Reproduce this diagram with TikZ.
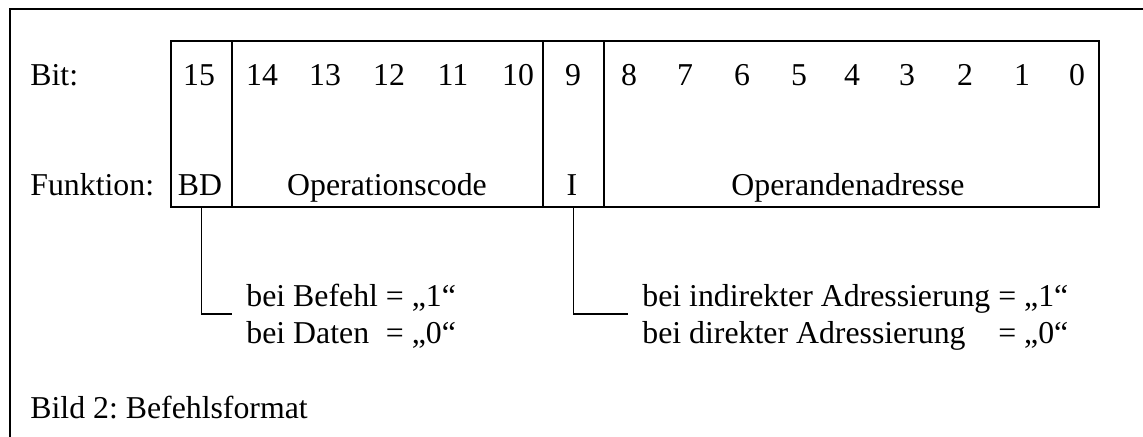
\documentclass[tikz,border=0pt]{standalone}
\usepackage{fontspec}
\setmainfont{Liberation Serif}
\frenchspacing
\begin{document}
\begin{tikzpicture}[x=0.5pt,y=-0.5pt,
  every node/.style={font=\fontsize{15.9}{18}\selectfont, inner sep=0pt},
  field/.style={draw, line width=0.8pt, minimum height=83pt},
  txt/.style={anchor=base},
  ltxt/.style={anchor=base west},
  conn/.style={line width=0.8pt}]
\useasboundingbox (0,0) rectangle (1143,437);
% outer frame (clipped at right and bottom)
\draw[line width=1pt] (1143,9) -- (10,9) -- (10,437);
% register fields
\node[field, minimum width=30.5pt]  (fBD)   at (201.5,124) {};
\node[field, minimum width=155.5pt] (fOp)   at (387.5,124) {};
\node[field, minimum width=30.5pt]  (fI)    at (573.5,124) {};
\node[field, minimum width=247.5pt] (fAddr) at (851.5,124) {};
% row labels
\node[ltxt] (lbit) at (30,86) {Bit:};
\node[ltxt] (lfun) at (30,196) {Funktion:};
% bit numbers
\foreach \n/\xx in {15/199,14/262,13/325,12/389,11/453,10/518,9/573,8/629,7/685,6/742,5/799,4/852,3/907,2/965,1/1022,0/1077}
  \node[txt] (b\n) at (\xx,86) {\n};
% function labels
\node[txt] (nBD)   at (200,196) {BD};
\node[txt] (nOp)   at (387,196) {Operationscode};
\node[txt] (nI)    at (572,196) {I};
\node[txt] (nAddr) at (848,196) {Operandenadresse};
% annotations
\node[anchor=base west] (aBD) at (246,307)
  {\begin{tabular}[t]{@{}l@{\ }l@{}}bei Befehl & = „1“\\ bei Daten & = „0“\end{tabular}};
\node[anchor=base west] (aI) at (642,307)
  {\begin{tabular}[t]{@{}l@{\ }l@{}}bei indirekter Adressierung & = „1“\\ bei direkter Adressierung & = „0“\end{tabular}};
% connectors
\coordinate (cBD) at (232,314);
\coordinate (cI)  at (628,314);
\draw[conn] (fBD.south) -- (fBD.south |- cBD) -- (cBD);
\draw[conn] (fI.south) -- (fI.south |- cI) -- (cI);
% caption
\node[ltxt] (cap) at (30,418) {Bild 2: Befehlsformat};
\end{tikzpicture}
\end{document}
